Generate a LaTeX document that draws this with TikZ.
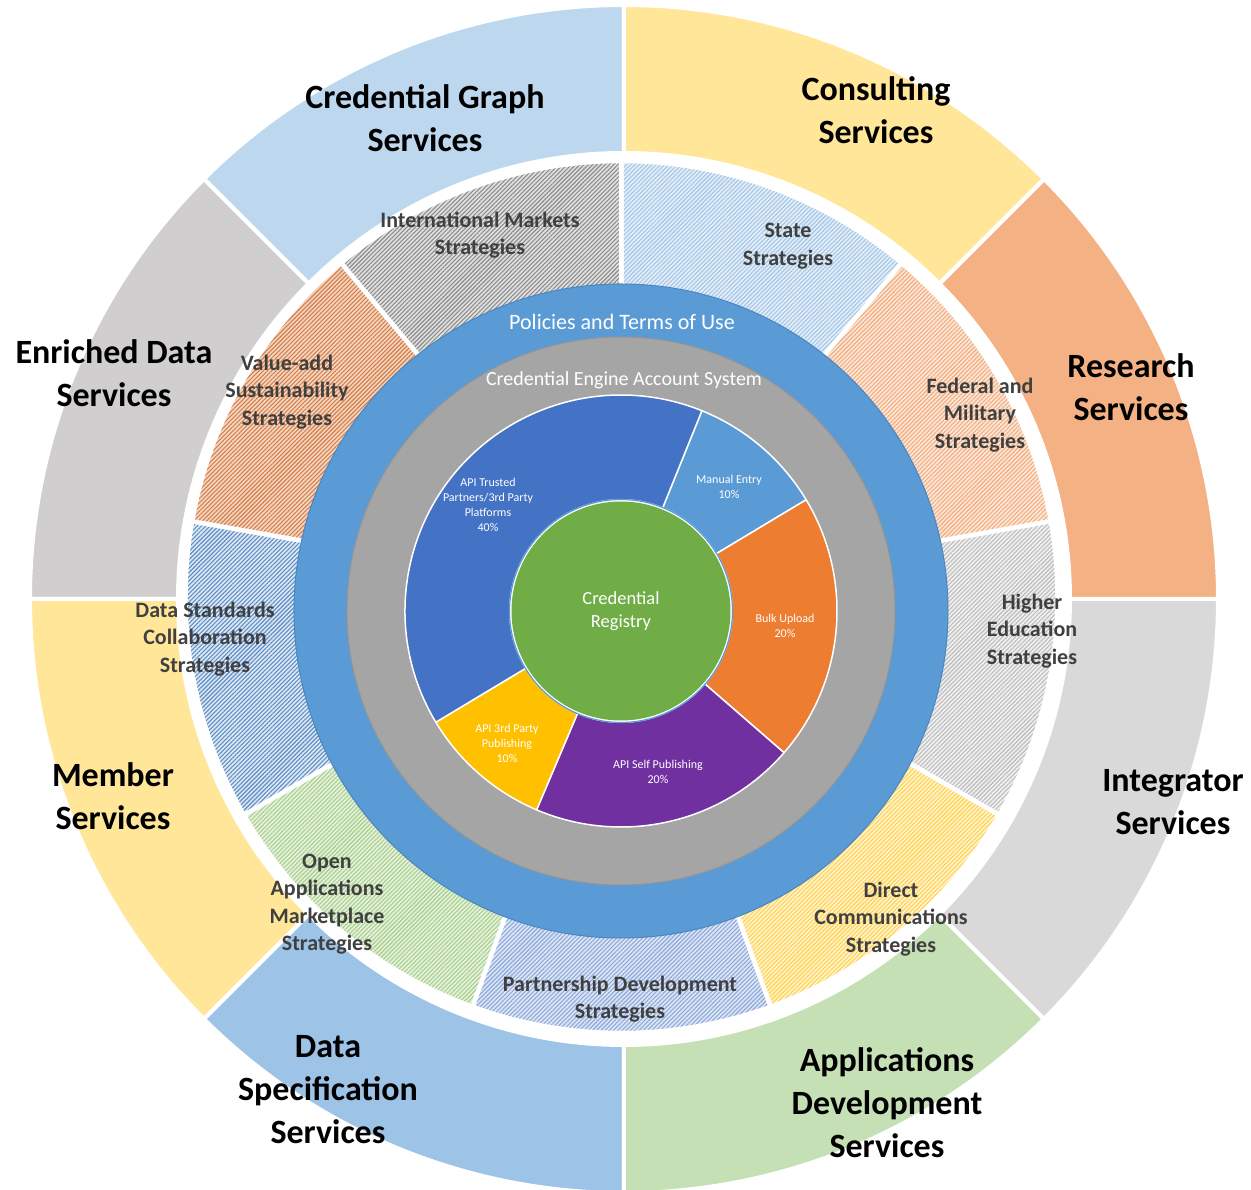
\documentclass[tikz,border=0pt]{standalone}
\usepackage{fontspec}
\setmainfont{Carlito}
\usetikzlibrary{patterns.meta}
% outer ring colours
\definecolor{oCG}{HTML}{BDD7EE}
\definecolor{oCO}{HTML}{FFE699}
\definecolor{oRE}{HTML}{F4B183}
\definecolor{oIN}{HTML}{D9D9D9}
\definecolor{oAD}{HTML}{C5E0B4}
\definecolor{oDS}{HTML}{9DC3E6}
\definecolor{oME}{HTML}{FFE699}
\definecolor{oED}{HTML}{D0CECE}
% strategy ring colours (base, lines)
\definecolor{sStB}{HTML}{E3EEF8}\definecolor{sStL}{HTML}{A5C6E6}
\definecolor{sFeB}{HTML}{FCE6D8}\definecolor{sFeL}{HTML}{F2AE80}
\definecolor{sHiB}{HTML}{F0F0F0}\definecolor{sHiL}{HTML}{BDBDBD}
\definecolor{sDiB}{HTML}{FFF3CF}\definecolor{sDiL}{HTML}{FFD24D}
\definecolor{sPaB}{HTML}{DCE5F4}\definecolor{sPaL}{HTML}{8EA9DB}
\definecolor{sOpB}{HTML}{E5F1DC}\definecolor{sOpL}{HTML}{A8D08D}
\definecolor{sDaB}{HTML}{DCE8F4}\definecolor{sDaL}{HTML}{5F8DC3}
\definecolor{sVaB}{HTML}{F8D5BE}\definecolor{sVaL}{HTML}{D0804F}
\definecolor{sInB}{HTML}{E0E0E0}\definecolor{sInL}{HTML}{8C8C8C}
\definecolor{sTxt}{HTML}{404040}
% inner colours
\definecolor{ringBlue}{HTML}{5B9BD5}
\definecolor{ringBlueB}{HTML}{4A86C2}
\definecolor{ringGray}{HTML}{A5A5A5}
\definecolor{ringGrayB}{HTML}{959595}
\definecolor{pTrusted}{HTML}{4472C4}
\definecolor{pManual}{HTML}{5B9BD5}
\definecolor{pBulk}{HTML}{ED7D31}
\definecolor{pSelf}{HTML}{7030A0}
\definecolor{pThird}{HTML}{FFC000}
\definecolor{pGreen}{HTML}{70AD47}
\begin{document}
\begin{tikzpicture}[x=1pt,y=1pt,
  annsec/.style n args={4}{insert path={(#1:#4) arc[start angle=#1, end angle=#2, radius=#4] -- (#2:#3) arc[start angle=#2, end angle=#1, radius=#3] -- cycle}},
  outerseg/.style={fill=#1, draw=white, line width=4pt},
  stratseg/.style 2 args={fill=#1,
     postaction={pattern={Lines[angle=45,distance=3pt,line width=1.1pt]}, pattern color=#2},
     postaction={draw=white, line width=4.5pt}},
  pieseg/.style={fill=#1, draw=white, line width=1.5pt, line join=round},
  olabel/.style={font=\fontsize{34}{43}\selectfont\bfseries, align=center, inner sep=0pt, text=black},
  slabel/.style={font=\fontsize{22}{27.5}\selectfont\bfseries, align=center, inner sep=0pt, text=sTxt},
  plabel/.style={font=\fontsize{12}{15}\selectfont, align=center, inner sep=0pt, text=white},
  rlabel/.style={align=center, inner sep=0pt, text=white},
]
\useasboundingbox (-624,-591) rectangle (627,599);

% ---------------- outer ring ----------------
\path[outerseg=oCG, annsec={90}{135}{446}{594}];
\path[outerseg=oED, annsec={135}{180}{446}{594}];
\path[outerseg=oME, annsec={180}{225}{446}{594}];
\path[outerseg=oDS, annsec={225}{270}{446}{594}];
\path[outerseg=oAD, annsec={270}{315}{446}{594}];
\path[outerseg=oIN, annsec={315}{360}{446}{594}];
\path[outerseg=oRE, annsec={0}{45}{446}{594}];
\path[outerseg=oCO, annsec={45}{90}{446}{594}];

% ---------------- strategy ring ----------------
\begin{scope}[shift={(-2.5,2)}]
\path[stratseg={sStB}{sStL}, annsec={90}{50}{300}{436}];
\path[stratseg={sFeB}{sFeL}, annsec={50}{10}{300}{436}];
\path[stratseg={sHiB}{sHiL}, annsec={10}{-30}{300}{436}];
\path[stratseg={sDiB}{sDiL}, annsec={-30}{-70}{300}{436}];
\path[stratseg={sPaB}{sPaL}, annsec={-70}{-110}{300}{436}];
\path[stratseg={sOpB}{sOpL}, annsec={-110}{-150}{300}{436}];
\path[stratseg={sDaB}{sDaL}, annsec={-150}{-190}{300}{436}];
\path[stratseg={sVaB}{sVaL}, annsec={170}{130}{300}{436}];
\path[stratseg={sInB}{sInL}, annsec={130}{90}{300}{436}];
\end{scope}

% ---------------- inner rings and pie ----------------
\begin{scope}[shift={(-3,-12)}]
\fill[ringBlue, draw=ringBlueB, line width=1pt] (0,0) circle[radius=327];
\fill[ringGray, draw=ringGrayB, line width=1pt] (0,0) circle[radius=274];
\path[pieseg=pManual]  (0,0) -- (68:216) arc[start angle=68, end angle=31, radius=216] -- cycle;
\path[pieseg=pBulk]    (0,0) -- (31:216) arc[start angle=31, end angle=-41, radius=216] -- cycle;
\path[pieseg=pSelf]    (0,0) -- (-41:216) arc[start angle=-41, end angle=-113, radius=216] -- cycle;
\path[pieseg=pThird]   (0,0) -- (-113:216) arc[start angle=-113, end angle=-149, radius=216] -- cycle;
\path[pieseg=pTrusted] (0,0) -- (-149:216) arc[start angle=-149, end angle=-292, radius=216] -- cycle;
\fill[white] (0,0) circle[radius=112];
\draw[ringBlue, line width=1.2pt] (0,0) circle[radius=111.5];
\fill[pGreen] (0,0) circle[radius=109.5];
\end{scope}

% ---------------- inner labels ----------------
\node[rlabel, font=\fontsize{22}{26}\selectfont] (policies) at (-2,277) {Policies and Terms of Use};
\node[rlabel, font=\fontsize{20}{24}\selectfont] (account) at (0,219) {Credential Engine Account System};
\node[rlabel, font=\fontsize{18.5}{23}\selectfont] (registry) at (-3,-12) {Credential\\Registry};
\node[plabel] (trusted) at (-136,94) {API Trusted\\Partners/3rd Party\\Platforms\\40\%};
\node[plabel] (manual) at (105,112) {Manual Entry\\10\%};
\node[plabel] (bulk) at (161,-27) {Bulk Upload\\20\%};
\node[plabel] (self) at (34,-173) {API Self Publishing\\20\%};
\node[plabel] (third) at (-117,-144) {API 3rd Party\\Publishing\\10\%};

% ---------------- strategy labels ----------------
\node[slabel] (intl) at (-144,364) {International Markets\\Strategies};
\node[slabel] (state) at (164,353) {State\\Strategies};
\node[slabel] (federal) at (356,184) {Federal and\\Military\\Strategies};
\node[slabel] (higher) at (408,-32) {Higher\\Education\\Strategies};
\node[slabel] (direct) at (267,-320) {Direct\\Communications\\Strategies};
\node[slabel] (partner) at (-4,-400) {Partnership Development\\Strategies};
\node[slabel] (open) at (-297,-305) {Open\\Applications\\Marketplace\\Strategies};
\node[slabel] (datastd) at (-419,-40) {Data Standards\\Collaboration\\Strategies};
\node[slabel] (valueadd) at (-337,207) {Value-add\\Sustainability\\Strategies};

% ---------------- outer labels ----------------
\node[olabel] (cgraph) at (-199,481) {Credential Graph\\Services};
\node[olabel] (consult) at (252,489) {Consulting\\Services};
\node[olabel] (research) at (507,212) {Research\\Services};
\node[olabel] (integr) at (549,-203) {Integrator\\Services};
\node[olabel] (appdev) at (263,-504) {Applications\\Development\\Services};
\node[olabel] (dataspec) at (-296,-491) {Data\\Specification\\Services};
\node[olabel] (member) at (-511,-197) {Member\\Services};
\node[olabel] (enriched) at (-510,226) {Enriched Data\\Services};
\end{tikzpicture}
\end{document}
